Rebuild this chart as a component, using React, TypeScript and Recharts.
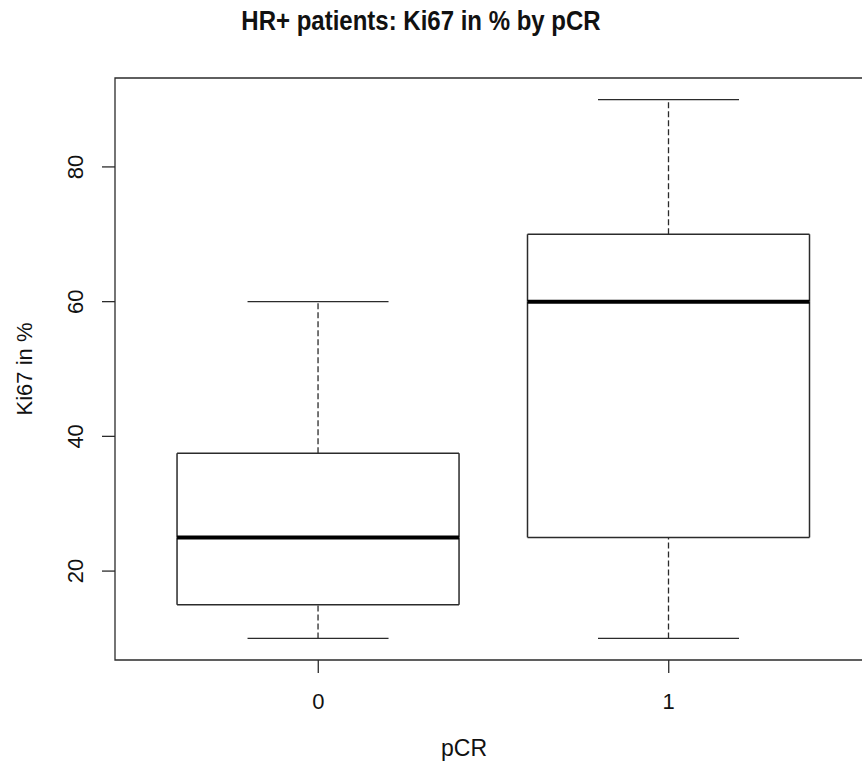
import React from "react";
import { ComposedChart, Bar, XAxis, YAxis, ReferenceArea } from "recharts";

// boxplot stats per pCR group
const groups = ["0", "1"];
const whiskerLow = [10, 10];
const q1 = [15, 25];
const median = [25, 60];
const q3 = [37.5, 70];
const whiskerHigh = [60, 90];
const yTicks = [20, 40, 60, 80];

const data = groups.map((g, i) => ({
  x: i + 1,
  label: g,
  base: whiskerLow[i],
  lowW: q1[i] - whiskerLow[i],
  boxLow: median[i] - q1[i],
  boxHigh: q3[i] - median[i],
  highW: whiskerHigh[i] - q3[i],
}));

const FONT = '"Liberation Sans", Arial, sans-serif';
const LINE = "#2b2b2b";

const LowWhisker = (p: any) => {
  const cx = p.x + p.width / 2;
  const bottom = p.y + p.height;
  return (
    <g>
      <line x1={cx} x2={cx} y1={bottom} y2={p.y} stroke={LINE} strokeWidth={1.3} strokeDasharray="6 3" />
      <line x1={cx - p.width / 4} x2={cx + p.width / 4} y1={bottom} y2={bottom} stroke={LINE} strokeWidth={1.3} />
    </g>
  );
};

const HighWhisker = (p: any) => {
  const cx = p.x + p.width / 2;
  const bottom = p.y + p.height;
  return (
    <g>
      <line x1={cx} x2={cx} y1={bottom} y2={p.y} stroke={LINE} strokeWidth={1.3} strokeDasharray="6 3" />
      <line x1={cx - p.width / 4} x2={cx + p.width / 4} y1={p.y} y2={p.y} stroke={LINE} strokeWidth={1.3} />
    </g>
  );
};

const BoxLow = (p: any) => {
  const bottom = p.y + p.height;
  return (
    <g>
      <rect x={p.x} y={p.y} width={p.width} height={p.height} fill="#fff" stroke="none" />
      <line x1={p.x} x2={p.x} y1={p.y} y2={bottom} stroke={LINE} strokeWidth={1.5} />
      <line x1={p.x + p.width} x2={p.x + p.width} y1={p.y} y2={bottom} stroke={LINE} strokeWidth={1.5} />
      <line x1={p.x} x2={p.x + p.width} y1={bottom} y2={bottom} stroke={LINE} strokeWidth={1.5} />
    </g>
  );
};

const BoxHigh = (p: any) => {
  const bottom = p.y + p.height;
  return (
    <g>
      <rect x={p.x} y={p.y} width={p.width} height={p.height} fill="#fff" stroke="none" />
      <line x1={p.x} x2={p.x} y1={p.y} y2={bottom} stroke={LINE} strokeWidth={1.5} />
      <line x1={p.x + p.width} x2={p.x + p.width} y1={p.y} y2={bottom} stroke={LINE} strokeWidth={1.5} />
      <line x1={p.x} x2={p.x + p.width} y1={p.y} y2={p.y} stroke={LINE} strokeWidth={1.5} />
      {/* median */}
      <line x1={p.x} x2={p.x + p.width} y1={bottom} y2={bottom} stroke="#000" strokeWidth={4} />
    </g>
  );
};

const XTick = (p: any) => (
  <text x={p.x} y={p.y + 26} textAnchor="middle" dominantBaseline="central" fontFamily={FONT} fontSize={22} fill="#111">
    {groups[p.payload.value - 1]}
  </text>
);

const YTick = (p: any) => (
  <text
    x={p.x - 24}
    y={p.y}
    transform={`rotate(-90, ${p.x - 24}, ${p.y})`}
    textAnchor="middle"
    dominantBaseline="central"
    fontFamily={FONT}
    fontSize={22}
    fill="#111"
  >
    {p.payload.value}
  </text>
);

export default function App() {
  return (
    <div
      style={{
        position: "absolute",
        left: 0,
        top: 0,
        width: 862,
        height: 764,
        overflow: "hidden",
        background: "#fff",
      }}
    >
      <div
        style={{
          position: "absolute",
          left: 421,
          top: 21,
          transform: "translate(-50%, -50%) scaleY(1.14)",
          fontFamily: FONT,
          fontWeight: "bold",
          fontSize: 24,
          color: "#111",
          whiteSpace: "nowrap",
        }}
      >
        HR+ patients: Ki67 in % by pCR
      </div>
      <ComposedChart width={880} height={764} data={data} margin={{ top: 78, right: 8, bottom: 44, left: 0 }}>
        <XAxis
          dataKey="x"
          type="number"
          domain={[0.42, 2.58]}
          ticks={[1, 2]}
          interval={0}
          allowDataOverflow
          height={60}
          axisLine={false}
          tickSize={13}
          tickLine={{ stroke: LINE, strokeWidth: 1.3 }}
          tick={<XTick />}
          label={{
            value: "pCR",
            content: () => (
              <text x={464} y={748} textAnchor="middle" dominantBaseline="central" fontFamily={FONT} fontSize={23} fill="#111">
                pCR
              </text>
            ),
          }}
        />
        <YAxis
          type="number"
          domain={[6.8, 93.2]}
          ticks={yTicks}
          interval={0}
          allowDataOverflow
          width={115}
          axisLine={false}
          tickSize={13}
          tickLine={{ stroke: LINE, strokeWidth: 1.3 }}
          tick={<YTick />}
          label={{
            value: "Ki67 in %",
            content: () => (
              <text
                x={24}
                y={369}
                transform="rotate(-90, 24, 369)"
                textAnchor="middle"
                dominantBaseline="central"
                fontFamily={FONT}
                fontSize={22}
                fill="#111"
              >
                Ki67 in %
              </text>
            ),
          }}
        />
        <Bar dataKey="base" stackId="b" barSize={282} fill="none" isAnimationActive={false} />
        <Bar dataKey="lowW" stackId="b" barSize={282} shape={<LowWhisker />} isAnimationActive={false} />
        <Bar dataKey="boxLow" stackId="b" barSize={282} shape={<BoxLow />} isAnimationActive={false} />
        <Bar dataKey="boxHigh" stackId="b" barSize={282} shape={<BoxHigh />} isAnimationActive={false} />
        <Bar dataKey="highW" stackId="b" barSize={282} shape={<HighWhisker />} isAnimationActive={false} />
        <ReferenceArea x1={0.42} x2={2.58} y1={6.8} y2={93.2} fill="none" stroke={LINE} strokeWidth={1.3} ifOverflow="visible" />
      </ComposedChart>
    </div>
  );
}
